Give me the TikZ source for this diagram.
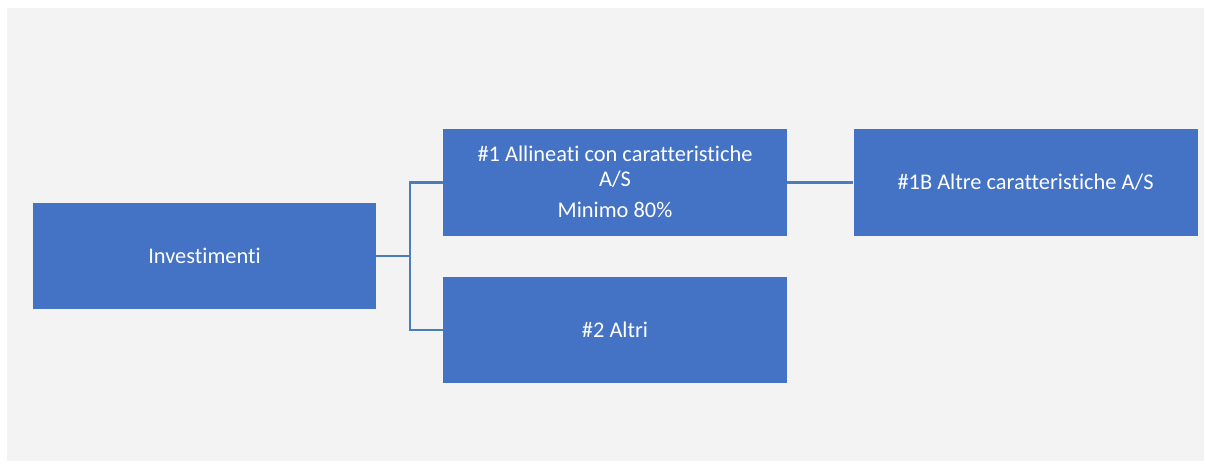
\documentclass[tikz,border=0pt]{standalone}
\usepackage{fontspec}
\setmainfont[Ligatures={NoCommon}]{Carlito}
\definecolor{boxblue}{HTML}{4472C4}
\definecolor{lineblue}{HTML}{4A7EBB}
\definecolor{bggray}{HTML}{F3F3F3}
\begin{document}
\begin{tikzpicture}[x=1pt,y=-1pt,
  txt/.style={text=white,font=\fontsize{22.4}{25}\selectfont,align=center,inner sep=0pt},
  blk/.style={txt,fill=boxblue,draw=none},
  conn/.style={draw=lineblue,line width=2.2pt}]
\useasboundingbox (0,0) rectangle (1206,463);
\fill[bggray] (7,8) rectangle (1204,461);
\node[blk,minimum width=343pt,minimum height=106pt] (inv) at (204.5,256) {Investimenti};
\node[blk,minimum width=344pt,minimum height=107pt] (a1) at (615,182.5) {};
\node[txt,anchor=base] (t1) at (615,186) {\#1 Allineati con caratteristiche\\A/S};
\node[txt,anchor=base] (t2) at (615,217) {Minimo 80\%};
\node[blk,minimum width=344pt,minimum height=107pt] (b1) at (1025.5,182.5) {\#1B Altre caratteristiche A/S};
\node[blk,minimum width=344pt,minimum height=106pt] (a2) at (615,330) {\#2 Altri};
\coordinate (j) at (410,256);
\draw[conn] (inv.east) -- (j);
\draw[conn] (a1.west) -| (j) |- (a2.west);
\draw[conn] (a1.east) -- (b1.west);
\end{tikzpicture}
\end{document}
